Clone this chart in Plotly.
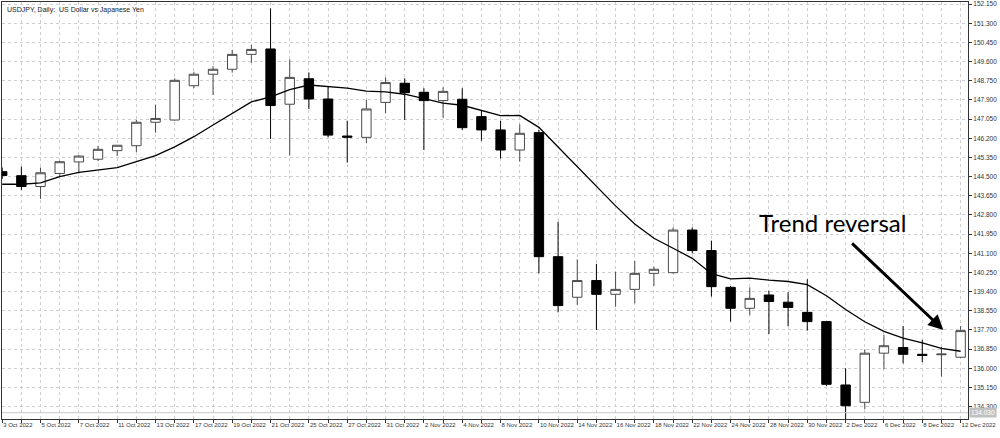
import plotly.graph_objects as go

# ---- data ----
dates = ["3 Oct 2022", "4 Oct 2022", "5 Oct 2022", "6 Oct 2022", "7 Oct 2022", "10 Oct 2022",
         "11 Oct 2022", "12 Oct 2022", "13 Oct 2022", "14 Oct 2022", "17 Oct 2022", "18 Oct 2022",
         "19 Oct 2022", "20 Oct 2022", "21 Oct 2022", "24 Oct 2022", "25 Oct 2022", "26 Oct 2022",
         "27 Oct 2022", "28 Oct 2022", "31 Oct 2022", "1 Nov 2022", "2 Nov 2022", "3 Nov 2022",
         "4 Nov 2022", "7 Nov 2022", "8 Nov 2022", "9 Nov 2022", "10 Nov 2022", "11 Nov 2022",
         "14 Nov 2022", "15 Nov 2022", "16 Nov 2022", "17 Nov 2022", "18 Nov 2022", "21 Nov 2022",
         "22 Nov 2022", "23 Nov 2022", "24 Nov 2022", "25 Nov 2022", "28 Nov 2022", "29 Nov 2022",
         "30 Nov 2022", "1 Dec 2022", "2 Dec 2022", "5 Dec 2022", "6 Dec 2022", "7 Dec 2022",
         "8 Dec 2022", "9 Dec 2022", "12 Dec 2022"]

opens = [144.72, 144.54, 144.06, 144.64, 145.15, 145.27, 145.65, 145.87, 146.91, 147.01,
         148.53, 149.04, 149.26, 149.92, 150.16, 147.71, 148.84, 147.94, 146.30, 146.24,
         147.79, 148.64, 148.24, 147.87, 147.93, 147.16, 146.57, 145.68, 146.45, 140.95,
         139.15, 139.89, 139.28, 139.50, 140.21, 140.24, 142.13, 141.22, 139.59, 138.66,
         139.25, 138.93, 138.48, 138.07, 135.26, 134.49, 136.67, 136.92, 136.62, 136.60,
         136.49]
highs = [144.90, 144.94, 144.90, 145.20, 145.45, 145.86, 145.90, 147.01, 147.68, 148.86,
         149.15, 149.40, 150.12, 150.34, 151.96, 149.70, 149.12, 148.49, 146.98, 147.90,
         148.90, 148.86, 148.42, 148.46, 148.42, 147.45, 146.98, 146.82, 146.57, 142.50,
         140.83, 140.63, 140.29, 140.76, 140.51, 142.25, 142.25, 141.66, 139.65, 139.59,
         139.44, 139.37, 139.95, 138.07, 136.00, 136.84, 137.48, 137.87, 137.26, 136.95,
         137.87]
lows = [144.40, 143.91, 143.51, 144.50, 144.64, 145.19, 145.41, 145.59, 146.45, 146.98,
        148.42, 148.12, 149.11, 149.55, 146.17, 145.43, 147.50, 146.24, 145.12, 145.98,
        147.31, 147.01, 145.68, 147.11, 146.57, 146.09, 145.30, 145.16, 140.21, 138.48,
        138.81, 137.70, 138.73, 138.88, 139.65, 140.20, 141.10, 139.18, 138.07, 138.36,
        137.52, 137.87, 137.67, 135.22, 133.64, 134.18, 135.96, 136.22, 136.27, 135.63,
        136.45]
closes = [144.55, 144.06, 144.67, 145.16, 145.41, 145.71, 145.89, 146.91, 147.08, 148.77,
          149.04, 149.26, 149.92, 150.14, 147.65, 148.90, 147.94, 146.34, 146.25, 147.50,
          148.67, 148.22, 147.87, 148.28, 146.67, 146.57, 145.68, 146.42, 140.95, 138.78,
          139.89, 139.28, 139.50, 140.21, 140.39, 142.13, 141.22, 139.62, 138.66, 139.10,
          138.96, 138.70, 138.07, 135.29, 134.34, 136.67, 137.00, 136.62, 136.57, 136.63,
          137.67]

# 10-period moving average: first values (need earlier bars)
ma_period = 10
ma_start = [144.16, 144.16, 144.22, 144.50, 144.69, 144.79, 144.90, 145.16, 145.43]

price_ticks = [134.300, 135.150, 136.000, 136.850, 137.700, 138.550, 139.400, 140.250,
               141.100, 141.950, 142.800, 143.650, 144.500, 145.350, 146.200, 147.050,
               147.900, 148.750, 149.600, 150.450, 151.300, 152.150]

price_line = 134.03
title_text = "USDJPY, Daily:  US Dollar vs Japanese Yen"
note_text = "Trend reversal"

# ---- build ----
n = len(dates)
assert all(len(a) == n for a in (opens, highs, lows, closes))
idx = list(range(n))

ma = list(ma_start)
for i in range(len(ma_start), n):
    window = closes[i - ma_period + 1:i + 1]
    ma.append(sum(window) / ma_period)

fig = go.Figure()
fig.add_trace(go.Candlestick(
    x=idx, open=opens, high=highs, low=lows, close=closes,
    increasing=dict(line=dict(color="#4a4a4a", width=1), fillcolor="white"),
    decreasing=dict(line=dict(color="black", width=1), fillcolor="black"),
    whiskerwidth=0, hoverinfo="skip", name="USDJPY"))
fig.add_trace(go.Scatter(x=idx, y=ma, mode="lines",
                         line=dict(color="black", width=1.3), hoverinfo="skip"))

grid = dict(showgrid=True, gridcolor="#cfcfcf", gridwidth=1, griddash="3px,3px")
xtickfont = dict(family="Liberation Sans", size=6, color="#333")
ytickfont = dict(family="Liberation Sans", size=6.5, color="#333")

fig.update_xaxes(
    range=[-0.01, 50.385], tickvals=idx, tickmode="array",
    ticktext=[d if i % 2 == 0 else "" for i, d in enumerate(dates)],
    tickangle=0,
    ticklabelposition="outside right", ticks="outside", ticklen=3, tickcolor="#333",
    showline=True, linecolor="#333", linewidth=1, mirror=True, zeroline=False,
    tickfont=xtickfont, rangeslider=dict(visible=False), automargin=False, **grid)
fig.update_yaxes(
    side="right", range=[133.751, 152.243], tickvals=price_ticks, tickmode="array",
    ticktext=[f"{v:.3f}" for v in price_ticks], ticks="outside", ticklen=3,
    tickcolor="#333", showline=True, linecolor="#333", linewidth=1, mirror=True,
    zeroline=False, tickfont=ytickfont, automargin=False, **grid)

fig.add_shape(type="line", xref="paper", x0=0, x1=1, yref="y", y0=price_line, y1=price_line,
              line=dict(color="#c8c8c8", width=1))
fig.add_annotation(xref="paper", x=1, xanchor="left", xshift=1, yref="y", y=price_line,
                   text=f"{price_line:.3f}", showarrow=False, bgcolor="#c0c0c0",
                   font=dict(family="Liberation Sans", size=6.5, color="white"), borderpad=1)

fig.add_annotation(xref="paper", x=0, xanchor="left", xshift=3, yref="paper", y=1,
                   yanchor="top", yshift=-2, text=title_text, showarrow=False,
                   font=dict(family="Liberation Sans", size=7, color="#222"))

fig.add_annotation(x=43.3, y=142.45, text=note_text, showarrow=False,
                   font=dict(family="Lato", size=24, color="black"))
fig.add_annotation(x=49.1, y=137.70, ax=44.26, ay=141.60, axref="x", ayref="y",
                   text="", showarrow=True, arrowhead=2, arrowsize=1,
                   arrowwidth=3, arrowcolor="black")

fig.update_layout(width=1000, height=438, template="none",
                  margin=dict(l=2, r=32, t=2, b=19),
                  paper_bgcolor="white", plot_bgcolor="white", showlegend=False)

fig.write_html("out.html", config={"displayModeBar": False},
               post_script="document.body.style.margin='0';")
